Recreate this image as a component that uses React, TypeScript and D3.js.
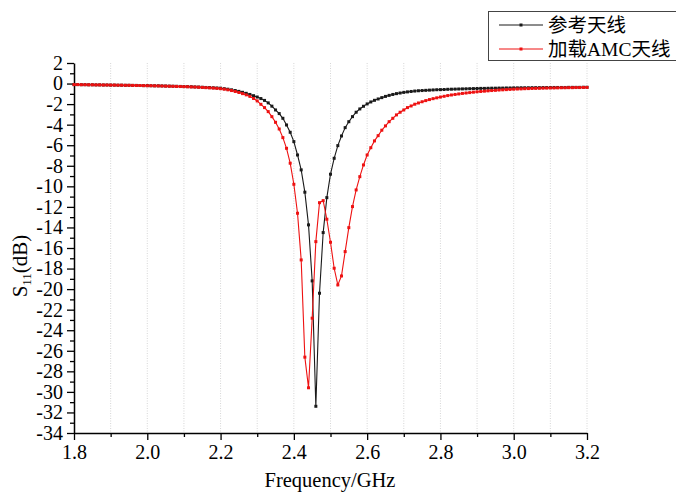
import React, { useEffect, useRef } from "react";
import * as d3 from "d3";

// frequency grid (GHz), 1.80 .. 3.20 step 0.01
const freq = [
  1.80, 1.81, 1.82, 1.83, 1.84, 1.85, 1.86, 1.87, 1.88, 1.89,
  1.90, 1.91, 1.92, 1.93, 1.94, 1.95, 1.96, 1.97, 1.98, 1.99,
  2.00, 2.01, 2.02, 2.03, 2.04, 2.05, 2.06, 2.07, 2.08, 2.09,
  2.10, 2.11, 2.12, 2.13, 2.14, 2.15, 2.16, 2.17, 2.18, 2.19,
  2.20, 2.21, 2.22, 2.23, 2.24, 2.25, 2.26, 2.27, 2.28, 2.29,
  2.30, 2.31, 2.32, 2.33, 2.34, 2.35, 2.36, 2.37, 2.38, 2.39,
  2.40, 2.41, 2.42, 2.43, 2.44, 2.45, 2.46, 2.47, 2.48, 2.49,
  2.50, 2.51, 2.52, 2.53, 2.54, 2.55, 2.56, 2.57, 2.58, 2.59,
  2.60, 2.61, 2.62, 2.63, 2.64, 2.65, 2.66, 2.67, 2.68, 2.69,
  2.70, 2.71, 2.72, 2.73, 2.74, 2.75, 2.76, 2.77, 2.78, 2.79,
  2.80, 2.81, 2.82, 2.83, 2.84, 2.85, 2.86, 2.87, 2.88, 2.89,
  2.90, 2.91, 2.92, 2.93, 2.94, 2.95, 2.96, 2.97, 2.98, 2.99,
  3.00, 3.01, 3.02, 3.03, 3.04, 3.05, 3.06, 3.07, 3.08, 3.09,
  3.10, 3.11, 3.12, 3.13, 3.14, 3.15, 3.16, 3.17, 3.18, 3.19,
  3.20,
];

// 参考天线 S11 (dB)
const refS11 = [
  -0.10, -0.10, -0.11, -0.11, -0.12, -0.12, -0.13, -0.13, -0.14, -0.14,
  -0.15, -0.15, -0.16, -0.16, -0.17, -0.17, -0.18, -0.18, -0.19, -0.20,
  -0.20, -0.21, -0.22, -0.22, -0.23, -0.24, -0.25, -0.26, -0.27, -0.28,
  -0.29, -0.30, -0.31, -0.33, -0.34, -0.36, -0.38, -0.39, -0.41, -0.43,
  -0.45, -0.50, -0.55, -0.61, -0.68, -0.76, -0.85, -0.95, -1.06, -1.18,
  -1.31, -1.46, -1.64, -1.88, -2.20, -2.57, -2.92, -3.38, -4.03, -4.74,
  -5.65, -6.95, -8.40, -10.57, -13.75, -19.20, -31.40, -20.40, -14.50, -11.10,
  -8.82, -7.27, -6.04, -5.10, -4.29, -3.71, -3.22, -2.79, -2.47, -2.21,
  -1.98, -1.79, -1.63, -1.50, -1.37, -1.25, -1.15, -1.06, -0.98, -0.92,
  -0.86, -0.81, -0.77, -0.73, -0.70, -0.68, -0.66, -0.64, -0.62, -0.60,
  -0.59, -0.58, -0.56, -0.55, -0.54, -0.53, -0.52, -0.51, -0.50, -0.49,
  -0.48, -0.47, -0.47, -0.46, -0.45, -0.45, -0.44, -0.44, -0.43, -0.43,
  -0.42, -0.42, -0.41, -0.41, -0.41, -0.40, -0.40, -0.40, -0.39, -0.39,
  -0.39, -0.38, -0.38, -0.38, -0.38, -0.37, -0.37, -0.37, -0.37, -0.36,
  -0.36,
];

// 加载AMC天线 S11 (dB)
const amcS11 = [
  -0.10, -0.10, -0.11, -0.11, -0.12, -0.12, -0.13, -0.13, -0.14, -0.14,
  -0.15, -0.15, -0.16, -0.16, -0.17, -0.17, -0.18, -0.19, -0.19, -0.20,
  -0.21, -0.21, -0.22, -0.23, -0.24, -0.25, -0.26, -0.27, -0.28, -0.29,
  -0.30, -0.31, -0.33, -0.34, -0.36, -0.38, -0.40, -0.42, -0.44, -0.47,
  -0.50, -0.55, -0.61, -0.68, -0.77, -0.87, -0.98, -1.10, -1.25, -1.45,
  -1.69, -2.02, -2.34, -2.73, -3.22, -3.77, -4.42, -5.26, -6.30, -7.75,
  -9.80, -12.62, -17.16, -26.62, -29.60, -22.83, -15.38, -11.59, -11.39, -13.20,
  -15.44, -17.97, -19.59, -18.72, -16.35, -14.02, -11.97, -10.35, -9.06, -7.92,
  -6.95, -6.24, -5.58, -5.07, -4.54, -4.12, -3.71, -3.38, -3.05, -2.79,
  -2.57, -2.34, -2.18, -2.01, -1.89, -1.77, -1.66, -1.56, -1.47, -1.39,
  -1.31, -1.24, -1.17, -1.11, -1.06, -1.01, -0.96, -0.92, -0.88, -0.84,
  -0.80, -0.77, -0.74, -0.71, -0.68, -0.66, -0.63, -0.61, -0.59, -0.57,
  -0.55, -0.53, -0.52, -0.50, -0.49, -0.48, -0.47, -0.46, -0.45, -0.44,
  -0.43, -0.43, -0.42, -0.41, -0.41, -0.40, -0.40, -0.39, -0.39, -0.38,
  -0.38,
];

const seriesNames = ["参考天线", "加载AMC天线"];
const seriesColors = ["#1a1a1a", "#ee1111"];

const xMajorTicks = [1.8, 2.0, 2.2, 2.4, 2.6, 2.8, 3.0, 3.2];
const xMinorTicks = [1.9, 2.1, 2.3, 2.5, 2.7, 2.9, 3.1];
const yMajorTicks = [2, 0, -2, -4, -6, -8, -10, -12, -14, -16, -18, -20, -22, -24, -26, -28, -30, -32, -34];
const yMinorTicks = [1, -1, -3, -5, -7, -9, -11, -13, -15, -17, -19, -21, -23, -25, -27, -29, -31, -33];
const gridLines = [1.9, 2.0, 2.1, 2.2, 2.3, 2.4, 2.5, 2.6, 2.7, 2.8, 2.9, 3.0, 3.1, 3.2];

const FONT = "'Liberation Serif', 'Times New Roman', 'Noto Sans CJK SC', serif";

const App = () => {
  const svgRef = useRef<SVGSVGElement>(null);

  useEffect(() => {
    const w = 676;
    const h = 492;
    const svg = d3.select(svgRef.current).attr("width", w).attr("height", h);
    svg.selectAll("*").remove();

    const x = d3.scaleLinear().domain([1.8, 3.2]).range([74, 587]);
    const y = d3.scaleLinear().domain([-34, 2]).range([433, 63]);

    // vertical grid
    svg.append("g")
      .selectAll("line")
      .data(gridLines)
      .enter()
      .append("line")
      .attr("x1", (d) => x(d))
      .attr("x2", (d) => x(d))
      .attr("y1", y(2))
      .attr("y2", y(-34))
      .attr("stroke", "#d6d6d6")
      .attr("stroke-width", 1)
      .attr("stroke-dasharray", "1,1.5");

    // axes
    const styleAxis = (g: any, size: number) => {
      g.attr("font-family", FONT).attr("font-size", size);
      g.select(".domain").attr("stroke", "#000").attr("stroke-width", 1.5);
      g.selectAll(".tick line").attr("stroke", "#000").attr("stroke-width", 1.3);
      g.selectAll(".tick text")
        .attr("font-family", FONT)
        .attr("font-size", size)
        .style("font-size", size + "px")
        .attr("fill", "#000");
    };

    const xAxis = svg.append("g")
      .attr("transform", `translate(0,${y(-34)})`)
      .call(d3.axisBottom(x).tickValues(xMajorTicks).tickFormat(d3.format(".1f")).tickSize(7).tickPadding(5).tickSizeOuter(0));
    styleAxis(xAxis, 20);
    const xMinor = svg.append("g")
      .attr("transform", `translate(0,${y(-34)})`)
      .call(d3.axisBottom(x).tickValues(xMinorTicks).tickFormat(() => "").tickSize(4).tickSizeOuter(0));
    styleAxis(xMinor, 20);
    xMinor.select(".domain").remove();

    const yAxis = svg.append("g")
      .attr("transform", `translate(${x(1.8)},0)`)
      .call(d3.axisLeft(y).tickValues(yMajorTicks).tickFormat(d3.format("d")).tickSize(7).tickPadding(4).tickSizeOuter(0));
    styleAxis(yAxis, 20);
    yAxis.selectAll(".tick text").text((d: any) => String(d));
    const yMinor = svg.append("g")
      .attr("transform", `translate(${x(1.8)},0)`)
      .call(d3.axisLeft(y).tickValues(yMinorTicks).tickFormat(() => "").tickSize(4).tickSizeOuter(0));
    styleAxis(yMinor, 20);
    yMinor.select(".domain").remove();

    // series
    const all = [refS11, amcS11];
    const line = d3.line<number>()
      .x((_, i) => x(freq[i]))
      .y((d) => y(d));

    all.forEach((vals, k) => {
      svg.append("path")
        .datum(vals)
        .attr("d", line)
        .attr("fill", "none")
        .attr("stroke", seriesColors[k])
        .attr("stroke-width", 1.1);
      svg.append("g")
        .selectAll("rect")
        .data(vals)
        .enter()
        .append("rect")
        .attr("x", (_, i) => x(freq[i]) - 1.5)
        .attr("y", (d) => y(d) - 1.5)
        .attr("width", 3)
        .attr("height", 3)
        .attr("fill", seriesColors[k]);
    });

    // axis titles
    svg.append("text")
      .attr("x", 330)
      .attr("y", 487)
      .attr("text-anchor", "middle")
      .style("font-family", FONT)
      .style("font-size", "20.5px")
      .text("Frequency/GHz");

    const yt = svg.append("text")
      .attr("transform", "translate(27,266) rotate(-90)")
      .attr("text-anchor", "middle")
      .style("font-family", FONT)
      .style("font-size", "21px");
    yt.append("tspan").text("S");
    yt.append("tspan").style("font-size", "13px").attr("dy", 4).text("11");
    yt.append("tspan").attr("dy", -4).text("(dB)");

    // legend
    const lg = svg.append("g");
    lg.append("rect")
      .attr("x", 488.5)
      .attr("y", 11.5)
      .attr("width", 200)
      .attr("height", 49)
      .attr("fill", "#fff")
      .attr("stroke", "#444")
      .attr("stroke-width", 1);
    seriesNames.forEach((name, k) => {
      const ly = 25 + k * 24;
      lg.append("line")
        .attr("x1", 499)
        .attr("x2", 543)
        .attr("y1", ly)
        .attr("y2", ly)
        .attr("stroke", seriesColors[k])
        .attr("stroke-width", 1);
      lg.append("rect")
        .attr("x", 519.5)
        .attr("y", ly - 1.5)
        .attr("width", 3)
        .attr("height", 3)
        .attr("fill", seriesColors[k]);
      lg.append("text")
        .attr("x", 548)
        .attr("y", ly + 7)
        .style("font-family", FONT)
        .style("font-size", "19.5px")
        .attr("fill", "#000")
        .text(name);
    });
  }, []);

  return (
    <div style={{ position: "absolute", left: 0, top: 0, width: 676, height: 492, background: "#fff" }}>
      <svg ref={svgRef}></svg>
    </div>
  );
};

export default App;
